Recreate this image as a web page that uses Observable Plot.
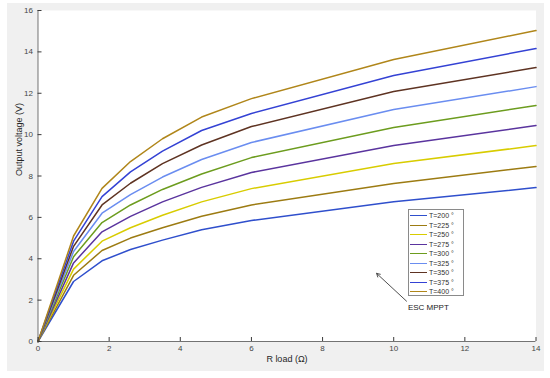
<!DOCTYPE html>
<html><head><meta charset="utf-8">
<script src="https://cdn.jsdelivr.net/npm/d3@7"></script>
<script src="https://cdn.jsdelivr.net/npm/@observablehq/plot@0.6"></script>
<style>
body{margin:0;background:#fff;}
#wrap{position:relative;width:550px;height:378px;overflow:hidden;font-family:"Liberation Sans",Arial,Helvetica,sans-serif;}
#bg{position:absolute;left:7px;top:3px;width:537px;height:368px;background:#f0f0f0;}
#chart{position:absolute;left:0;top:0;}
#legend{position:absolute;left:408px;top:209px;width:56px;height:87px;background:#fff;border:1px solid #8a8a8a;box-sizing:border-box;font-size:7px;color:#303030;padding-top:1px;}
.row{display:flex;align-items:center;height:9.5px;}
.sw{width:17px;height:0;border-top:1.6px solid;margin:0 2px 0 1px;}
</style></head>
<body>
<div id="wrap"><div id="bg"></div><div id="chart"></div><div id="legend"></div></div>
<script>
// ---- data ----
const R = [0, 1, 1.8, 2.6, 3.5, 4.6, 6, 10, 14];
const seriesNames = ["T=200 °","T=225 °","T=250 °","T=275 °","T=300 °","T=325 °","T=350 °","T=375 °","T=400 °"];
const T200 = [0, 2.9, 3.9, 4.45, 4.9, 5.4, 5.85, 6.75, 7.44];
const T225 = [0, 3.2, 4.4, 5.0, 5.5, 6.05, 6.6, 7.64, 8.46];
const T250 = [0, 3.5, 4.85, 5.5, 6.1, 6.75, 7.39, 8.6, 9.47];
const T275 = [0, 3.8, 5.3, 6.05, 6.75, 7.45, 8.17, 9.47, 10.44];
const T300 = [0, 4.1, 5.75, 6.6, 7.35, 8.1, 8.89, 10.34, 11.41];
const T325 = [0, 4.35, 6.2, 7.1, 7.95, 8.8, 9.62, 11.21, 12.32];
const T350 = [0, 4.6, 6.6, 7.65, 8.6, 9.5, 10.39, 12.08, 13.24];
const T375 = [0, 4.85, 7.0, 8.2, 9.2, 10.2, 11.02, 12.86, 14.16];
const T400 = [0, 5.1, 7.4, 8.7, 9.8, 10.85, 11.74, 13.63, 15.03];
const colors = ["#2f4fcc","#9c7b12","#d8cc00","#5a349e","#6c9c1e","#6a8df0","#5e3322","#3442d4","#b0861a"];
const xTicks = [0,2,4,6,8,10,12,14];
const yTicks = [0,2,4,6,8,10,12,14,16];
const xLabel = ["R load (Ω)"];
const yLabel = ["Output voltage (V)"];
const annotation = [{x1:10.36, y1:1.95, x2:9.52, y2:3.29, tx:10.4, ty:1.64, text:"ESC MPPT"}];

const allSeries = [T200,T225,T250,T275,T300,T325,T350,T375,T400];
const data = [];
allSeries.forEach((vals,i)=>vals.forEach((v,j)=>data.push({R:R[j], V:v, T:seriesNames[i]})));

const font = '"Liberation Sans",Arial,Helvetica,sans-serif';
const chart = Plot.plot({
  width:550, height:378,
  marginLeft:37.5, marginRight:14.5, marginTop:10, marginBottom:37,
  style:{background:"transparent", fontFamily:font, fontSize:"8px", color:"#454545", overflow:"visible"},
  x:{domain:[0,14]}, y:{domain:[0,16]},
  color:{domain:seriesNames, range:colors},
  marks:[
    Plot.frame({fill:"white", stroke:null}),
    Plot.line(data,{x:"R", y:"V", stroke:"T", strokeWidth:1.5}),
    Plot.ruleY([0],{stroke:"#3a3a3a", strokeWidth:0.7}),
    Plot.ruleX([0],{stroke:"#3a3a3a", strokeWidth:0.7}),
    Plot.axisX({ticks:xTicks, tickSize:-4, text:null, stroke:"#3a3a3a", label:null}),
    Plot.axisX({ticks:xTicks, tickSize:0, tickPadding:4, tickFormat:d=>String(d), label:null}),
    Plot.axisY({ticks:yTicks, tickSize:-4, text:null, stroke:"#3a3a3a", label:null}),
    Plot.axisY({ticks:yTicks, tickSize:0, tickPadding:5, tickFormat:d=>String(d), label:null}),
    Plot.text(xLabel,{frameAnchor:"bottom", dy:20, fontSize:9, fill:"#262626"}),
    Plot.text(yLabel,{frameAnchor:"left", dx:-19, rotate:-90, fontSize:9, fill:"#262626"}),
    Plot.arrow(annotation,{x1:"x1", y1:"y1", x2:"x2", y2:"y2", stroke:"#222", strokeWidth:0.8, headLength:7}),
    Plot.text(annotation,{x:"tx", y:"ty", text:"text", textAnchor:"start", fontSize:8, fill:"#222"})
  ]
});
document.getElementById("chart").appendChild(chart);

const leg = document.getElementById("legend");
seriesNames.forEach((n,i)=>{
  const row = document.createElement("div"); row.className="row";
  const sw = document.createElement("div"); sw.className="sw"; sw.style.borderTopColor = colors[i];
  const t = document.createElement("span"); t.textContent = n;
  row.appendChild(sw); row.appendChild(t); leg.appendChild(row);
});
</script>
</body></html>
